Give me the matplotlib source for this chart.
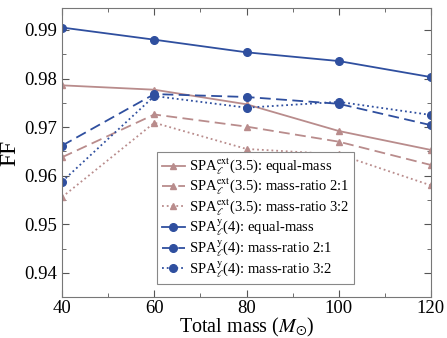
import matplotlib
matplotlib.use('Agg')
import matplotlib.pyplot as plt
from matplotlib.ticker import MultipleLocator

plt.rcParams['font.family'] = ['Liberation Serif', 'DejaVu Serif']
plt.rcParams['mathtext.fontset'] = 'stix'

mass = [40, 60, 80, 100, 120]

# SPA ext (3.5) - triangles
ext_equal = [0.9786, 0.9777, 0.9747, 0.9692, 0.9653]
ext_21 = [0.9638, 0.9726, 0.9701, 0.9670, 0.9622]
ext_32 = [0.9556, 0.9709, 0.9655, 0.9644, 0.9580]

# SPA y (4) - circles
y_equal = [0.9905, 0.9880, 0.9854, 0.9836, 0.9803]
y_21 = [0.9662, 0.9768, 0.9762, 0.9748, 0.9704]
y_32 = [0.9588, 0.9764, 0.9740, 0.9752, 0.9725]

red = '#b98c8c'
blue = '#2f4f9f'

fig = plt.figure(figsize=(4.47, 3.38), dpi=100)
ax = fig.add_axes([0.139, 0.121, 0.825, 0.855])

ax.plot(mass, ext_equal, '-', color=red, marker='^', ms=5, lw=1.3,
        label=r'SPA$_\ell^{\rm ext}$(3.5): equal-mass')
ax.plot(mass, ext_21, '--', color=red, marker='^', ms=5, lw=1.3, dashes=(6, 3),
        label=r'SPA$_\ell^{\rm ext}$(3.5): mass-ratio 2:1')
ax.plot(mass, ext_32, ':', color=red, marker='^', ms=5, lw=1.3,
        label=r'SPA$_\ell^{\rm ext}$(3.5): mass-ratio 3:2')
ax.plot(mass, y_equal, '-', color=blue, marker='o', ms=5.5, lw=1.3,
        label=r'SPA$_\ell^{\rm y}$(4): equal-mass')
ax.plot(mass, y_21, '--', color=blue, marker='o', ms=5.5, lw=1.3, dashes=(6, 3),
        label=r'SPA$_\ell^{\rm y}$(4): mass-ratio 2:1')
ax.plot(mass, y_32, ':', color=blue, marker='o', ms=5.5, lw=1.3,
        label=r'SPA$_\ell^{\rm y}$(4): mass-ratio 3:2')

ax.set_xlim(40, 120)
ax.set_ylim(0.935, 0.9945)
ax.xaxis.set_major_locator(MultipleLocator(20))
ax.xaxis.set_minor_locator(MultipleLocator(10))
ax.yaxis.set_minor_locator(MultipleLocator(0.005))
ax.set_yticks([0.94, 0.95, 0.96, 0.97, 0.98, 0.99])
ax.set_yticklabels(['0.94', '0.95', '0.96', '0.97', '0.98', '0.99'])
ax.tick_params(which='both', direction='in', top=True, right=True, labelsize=13.5,
               color='#555555')
ax.tick_params(axis='x', pad=2)
ax.tick_params(which='major', length=5)
ax.tick_params(which='minor', length=3)
for s in ax.spines.values():
    s.set_color('#777777')

ax.set_xlabel(r'Total mass ($M_{\odot}$)', fontsize=14.5, labelpad=-1)
ax.set_ylabel('FF', fontsize=17, labelpad=3)

leg = ax.legend(loc='lower left', bbox_to_anchor=(0.258, 0.045), fontsize=10.5,
                fancybox=False, framealpha=1, edgecolor='#888888',
                handlelength=1.6, handletextpad=0.3, borderpad=0.3,
                labelspacing=0.0, borderaxespad=0)
leg.get_frame().set_linewidth(0.8)

fig.savefig('out.png', dpi=100)
